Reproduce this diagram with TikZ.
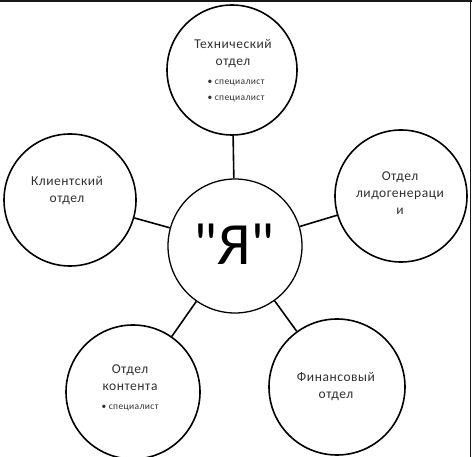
\documentclass[tikz,border=0pt]{standalone}
\usepackage{fontspec}
\setmainfont{Carlito}
\newfontfamily\qfont{Carlito}[Ligatures=TeXOff]
\newfontfamily\spfont{Carlito}[LetterSpace=4]
\definecolor{txt}{HTML}{303030}
\begin{document}
\begin{tikzpicture}[x=1pt,y=-1pt,
  dept/.style={circle,draw=black,line width=1.6pt,minimum size=#1,inner sep=0pt},
  dept/.default=132pt,
  lbl/.style={align=center,font=\spfont\fontsize{13.5}{17}\selectfont,text=txt},
  sm/.style={font=\spfont\fontsize{9.5}{10}\selectfont,text=txt},
  link/.style={line width=1.6pt,black}]
\useasboundingbox (0,0) rectangle (472,457);
\fill[black!90] (0,0) rectangle (472,2);
\fill[black!90] (469.5,0) rectangle (471,457);
% circles
\node[dept=134pt,line width=1.3pt] (me) at (235,246) {};
\node[dept=130pt] (tech) at (232,70) {};
\node[dept=132pt] (lead) at (401,196) {};
\node[dept=132pt] (client) at (70,200) {};
\node[dept=134pt] (content) at (133,392) {};
\node[dept=136pt] (fin) at (337,387) {};
% connectors
\draw[link] (me) -- (tech);
\draw[link] (me) -- (lead);
\draw[link] (me) -- (client);
\draw[link] (me) -- (content);
\draw[link] (me) -- (fin);
% texts
\node[font=\qfont\fontsize{60}{60}\selectfont] (metext) at (234,244) {"Я"};
\node[lbl] (techt) at (233,54) {Технический\\отдел};
\node[sm] (techb1) at (236,83) {\textbullet\ специалист};
\node[sm] (techb2) at (236,99) {\textbullet\ специалист};
\node[lbl] (leadt) at (400,193) {Отдел\\лидогенераци\\и};
\node[lbl] (clientt) at (67,191) {Клиентский\\отдел};
\node[lbl] (contentt) at (130,378) {Отдел\\контента};
\node[sm] (contentb) at (130,408) {\textbullet\ специалист};
\node[lbl] (fint) at (336,387) {Финансовый\\отдел};
\end{tikzpicture}
\end{document}
